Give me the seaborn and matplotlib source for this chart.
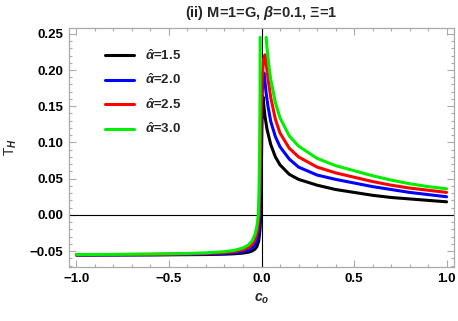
import numpy as np
import pandas as pd
import matplotlib
matplotlib.use("Agg")
import matplotlib.pyplot as plt
import seaborn as sns
from matplotlib.ticker import MultipleLocator

# alpha-hat values and colours
alphas = ["1.5", "2.0", "2.5", "3.0"]
colors = ["black", "#0000ff", "#ff0000", "#00ee00"]

# T_H curves (c_o, T_H)
c_15 = [-1.0, -0.8, -0.6, -0.4, -0.3, -0.2, -0.15, -0.1, -0.07, -0.05, -0.035, -0.025,
        -0.015, -0.008, -0.004, -0.001, 0.002, 0.005, 0.008, 0.012, 0.02, 0.03, 0.05,
        0.075, 0.1, 0.15, 0.2, 0.3, 0.4, 0.5, 0.6, 0.7, 0.8, 0.9, 1.0]
T_15 = [-0.0555, -0.0554, -0.0553, -0.0550, -0.0548, -0.0543, -0.0538, -0.0528, -0.0515,
        -0.0498, -0.0472, -0.0438, -0.036, -0.020, 0.0, 0.06, 0.12, 0.155, 0.163, 0.152,
        0.134, 0.118, 0.097, 0.080, 0.069, 0.056, 0.049, 0.041, 0.035, 0.031, 0.027, 0.024,
        0.022, 0.020, 0.018]

c_20 = [-1.0, -0.8, -0.6, -0.4, -0.3, -0.2, -0.15, -0.1, -0.07, -0.05, -0.035, -0.025,
        -0.015, -0.009, -0.005, -0.001, 0.004, 0.009, 0.013, 0.018, 0.025, 0.035, 0.05,
        0.075, 0.1, 0.15, 0.2, 0.3, 0.4, 0.5, 0.6, 0.7, 0.8, 0.9, 1.0]
T_20 = [-0.0553, -0.0552, -0.0550, -0.0546, -0.0542, -0.0533, -0.0525, -0.0508, -0.0487,
        -0.0458, -0.0415, -0.0358, -0.022, 0.0, 0.05, 0.12, 0.17, 0.19, 0.196, 0.186,
        0.168, 0.150, 0.129, 0.108, 0.094, 0.077, 0.066, 0.055, 0.049, 0.044, 0.039,
        0.035, 0.031, 0.028, 0.025]

c_25 = [-1.0, -0.8, -0.6, -0.4, -0.3, -0.2, -0.15, -0.1, -0.07, -0.05, -0.035, -0.025,
        -0.018, -0.013, -0.008, -0.003, 0.004, 0.011, 0.019, 0.025, 0.035, 0.05, 0.075,
        0.1, 0.15, 0.2, 0.3, 0.4, 0.5, 0.6, 0.7, 0.8, 0.9, 1.0]
T_25 = [-0.0550, -0.0548, -0.0545, -0.0539, -0.0533, -0.0520, -0.0508, -0.0483, -0.0451,
        -0.0408, -0.0344, -0.0258, -0.014, 0.0, 0.05, 0.13, 0.19, 0.215, 0.221, 0.210,
        0.188, 0.162, 0.132, 0.113, 0.092, 0.080, 0.066, 0.058, 0.052, 0.046, 0.041,
        0.037, 0.034, 0.031]

# green curve leaves the plot range near c_o = 0, so it comes in two pieces
c_30_left = [-1.0, -0.8, -0.6, -0.4, -0.3, -0.2, -0.15, -0.1, -0.07, -0.05, -0.035,
             -0.025, -0.02, -0.017, -0.013, -0.01, -0.008, -0.007]
T_30_left = [-0.0548, -0.0546, -0.0541, -0.0533, -0.0525, -0.0508, -0.0492, -0.0458,
             -0.0415, -0.0358, -0.0272, -0.0158, -0.006, 0.0, 0.04, 0.10, 0.17, 0.245]
c_30_right = [0.025, 0.03, 0.04, 0.05, 0.075, 0.1, 0.15, 0.2, 0.3, 0.4, 0.5, 0.6, 0.7,
              0.8, 0.9, 1.0]
T_30_right = [0.245, 0.230, 0.206, 0.187, 0.155, 0.134, 0.109, 0.095, 0.078, 0.068,
              0.061, 0.054, 0.048, 0.043, 0.039, 0.036]

parts = [
    ("1.5", 0, c_15, T_15),
    ("2.0", 0, c_20, T_20),
    ("2.5", 0, c_25, T_25),
    ("3.0", 0, c_30_left, T_30_left),
    ("3.0", 1, c_30_right, T_30_right),
]
df = pd.concat(
    [pd.DataFrame({"c": c, "T": t, "alpha": a, "seg": s}) for a, s, c, t in parts],
    ignore_index=True,
)

sns.set_style("ticks")
plt.rcParams["font.family"] = ["Liberation Sans", "DejaVu Sans"]
plt.rcParams["font.weight"] = "bold"
plt.rcParams["mathtext.fontset"] = "custom"
plt.rcParams["mathtext.rm"] = "Liberation Sans:bold"
plt.rcParams["mathtext.it"] = "Liberation Sans:italic:bold"
plt.rcParams["mathtext.bf"] = "Liberation Sans:bold"

fig = plt.figure(figsize=(4.58, 3.21), dpi=100)
ax = fig.add_axes([69 / 458, 1 - 267 / 321, 385 / 458, 239 / 321])

ax.axhline(0, color="black", lw=0.8, zorder=1)
ax.axvline(0, color="black", lw=0.8, zorder=1)

sns.lineplot(data=df, x="c", y="T", hue="alpha", hue_order=alphas, palette=colors,
             units="seg", estimator=None, sort=False, lw=2.2, ax=ax, zorder=3)

ax.set_xlim(-1.04, 1.04)
ax.set_ylim(-0.072, 0.258)
ax.xaxis.set_major_locator(MultipleLocator(0.5))
ax.xaxis.set_minor_locator(MultipleLocator(0.1))
ax.yaxis.set_major_locator(MultipleLocator(0.05))
ax.yaxis.set_minor_locator(MultipleLocator(0.01))
ax.xaxis.set_major_formatter(lambda v, p: f"{v:.1f}".replace("-", "\u2212"))
ax.yaxis.set_major_formatter(lambda v, p: f"{v:.2f}".replace("-", "\u2212"))

grey = "#aaaaaa"
for sp in ax.spines.values():
    sp.set_color(grey)
    sp.set_linewidth(0.9)
ax.tick_params(which="both", direction="in", top=True, right=True, color=grey,
               labelsize=9.5, labelcolor="black", width=0.8)
ax.tick_params(which="major", length=5, pad=4)
ax.tick_params(which="minor", length=2.5)
for lab in ax.get_xticklabels() + ax.get_yticklabels():
    lab.set_fontweight("bold")

ax.set_xlabel("$c_o$", fontsize=10, labelpad=5)
ax.set_ylabel("T$_H$", fontsize=10, labelpad=8)
ax.set_title(r"(ii) M=1=G, $\beta$=0.1, Ξ=1", fontsize=10.5, fontweight="bold", pad=8)

handles, _ = ax.get_legend_handles_labels()
ax.legend(handles, [r"$\hat{\alpha}$=" + a for a in alphas], loc="upper left",
          bbox_to_anchor=(36 / 385, 1 - 20 / 239), frameon=False,
          handlelength=2.2, handletextpad=0.8, labelspacing=0.75, borderpad=0,
          borderaxespad=0, prop={"weight": "bold", "size": 9.5})

fig.savefig("out.png", dpi=100)
